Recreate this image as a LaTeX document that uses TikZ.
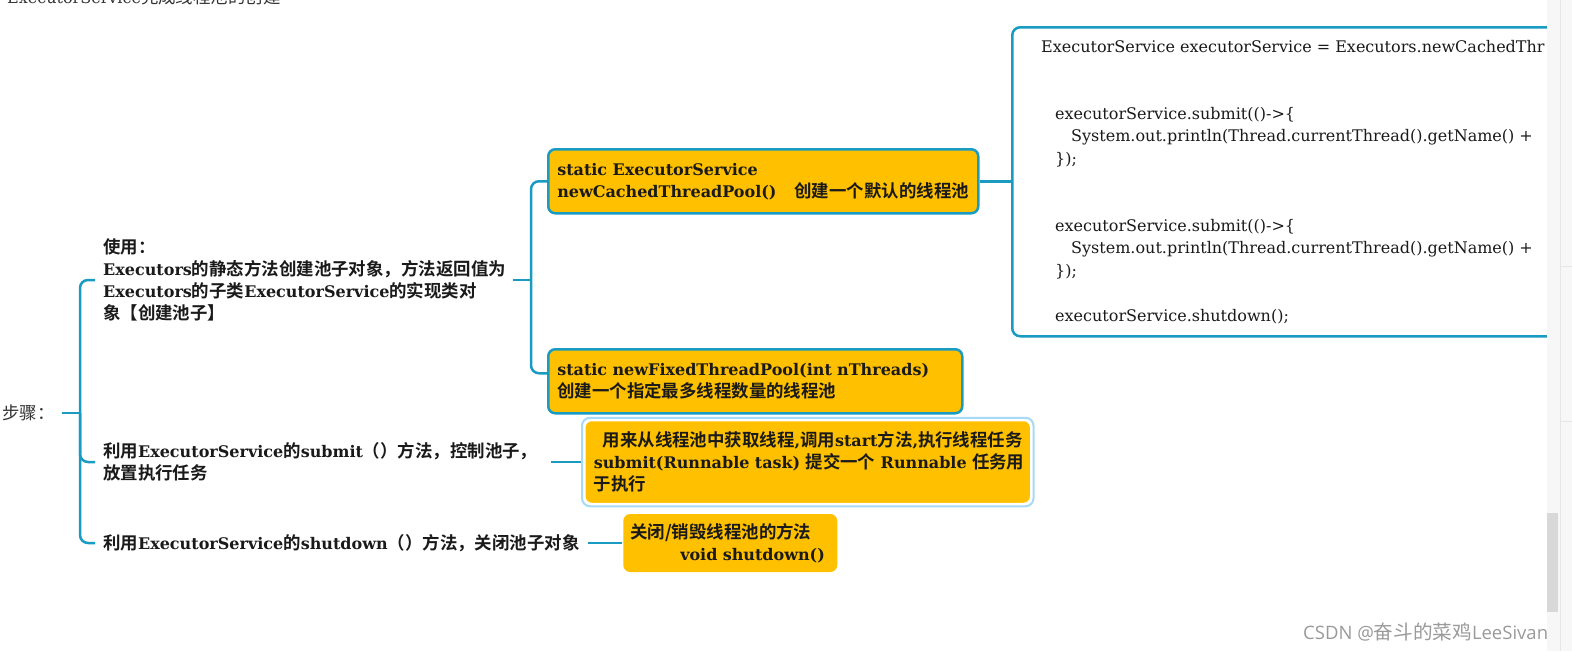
\documentclass[tikz,border=0pt]{standalone}
\usepackage{fontspec}
\setmainfont{DejaVu Serif}
\newfontfamily\cjk{Noto Sans CJK SC}[Scale=1.09,BoldFont={Noto Sans CJK SC Bold}]
\newfontfamily\markfont{Open Sans}
\usepackage{tikz}
\usetikzlibrary{positioning,calc}
\definecolor{Teal}{HTML}{1A9BC2}
\definecolor{Amber}{HTML}{FFC000}
\definecolor{Ring}{HTML}{A6DAF5}
\definecolor{Ink}{HTML}{1A1A1A}
\definecolor{Gray}{HTML}{333333}
\definecolor{MarkGray}{HTML}{9A9A9A}
\definecolor{ScrollBg}{HTML}{F7F7F7}
\definecolor{ScrollLine}{HTML}{E6E6E6}
\definecolor{Thumb}{HTML}{D8D8D8}
\newcommand{\zh}[1]{{\cjk #1}}
\newcommand{\bodyfont}{\fontsize{16}{22}\selectfont}

\tikzset{
  branch/.style={draw=Teal,line width=2.5pt,rounded corners=8pt},
  plain/.style={inner sep=0pt,anchor=west,font=\fontsize{16}{20}\selectfont,text=Gray},
  topic/.style={inner xsep=8pt,inner ysep=0pt,align=left,anchor=west,
    font=\bodyfont\bfseries,text=Ink},
  orangebox/.style={fill=Amber,draw=Teal,line width=2.5pt,rounded corners=7pt,
    inner xsep=9pt,inner ysep=3pt,align=left,anchor=north west,
    font=\bodyfont\bfseries,text=Ink},
  codebox/.style={fill=white,draw=Teal,line width=2.5pt,rounded corners=8pt,
    anchor=north west,minimum width=620pt,minimum height=309pt},
  codetext/.style={inner sep=0pt,align=left,anchor=north west,
    font=\fontsize{16}{22.4}\selectfont,text=Ink},
}

\begin{document}
\begin{tikzpicture}[x=1pt,y=-1pt]
  \fill[white] (0,0) rectangle (1572,651);
  \useasboundingbox (0,0) rectangle (1572,651);

  % title cut by the top edge
  \node[plain,anchor=base west] (title) at (7,3)
    {ExecutorService\zh{完成线程池的创建}};

  % left side
  \node[plain,text width=60pt,align=left] (steps) at (2,413) {\zh{步骤：}};
  \coordinate (trunk) at (80,413);

  \node[topic,text width=402pt] (usenode) at (95,280)
    {\zh{使用：}\\
     Executors\zh{的静态方法创建池子对象，方法返回值为}\\
     Executors\zh{的子类}ExecutorService\zh{的实现类对}\\
     \zh{象【创建池子】}};
  \node[topic,text width=440pt] (submitnode) at (95,462)
    {\mbox{\zh{利用}ExecutorService\zh{的}submit\zh{（）方法，控制池子，}}\\
     \zh{放置执行任务}};
  \node[topic,text width=477pt] (shutnode) at (95,543)
    {\mbox{\zh{利用}ExecutorService\zh{的}shutdown\zh{（）方法，关闭池子对象}}};

  \draw[branch] (steps) -- (trunk);
  \draw[branch] (usenode.west) -| (trunk) |- (shutnode.west);
  \draw[branch] (trunk) |- (submitnode.west);

  % pools
  \node[orangebox,minimum width=430pt,minimum height=64pt,text width=412pt]
    (cachednode) at (547,148)
    {static ExecutorService\\
     \mbox{newCachedThreadPool()\hspace{18pt}\zh{创建一个默认的线程池}}};
  \node[orangebox,minimum width=414pt,minimum height=64pt,text width=396pt]
    (fixednode) at (547,348)
    {\mbox{static newFixedThreadPool(int nThreads)}\\
     \zh{创建一个指定最多线程数量的线程池}};

  \coordinate (fork) at (531,280);
  \draw[branch] (usenode.east) -- (fork);
  \draw[branch] (cachednode.west) -| (fork) |- ([yshift=8pt]fixednode.west);

  % submit
  \node[orangebox,draw=white,line width=1.5pt,minimum width=446pt,minimum height=83pt,
    text width=428pt,anchor=west] (submitbox) at (584,462)
    {\mbox{\hspace*{9pt}\zh{用来从线程池中获取线程}{,}\zh{调用}start\zh{方法}{,}\zh{执行线程任务}}\\
     \mbox{submit(Runnable task) \zh{提交一个} Runnable \zh{任务用}}\\
     \zh{于执行}};
  \draw[Ring,line width=2pt,rounded corners=8pt]
    ([xshift=-2pt,yshift=2pt]submitbox.north west) rectangle
    ([xshift=2pt,yshift=-2pt]submitbox.south east);
  \draw[branch] (submitnode.east) -- ([xshift=-3pt]submitbox.west);

  % shutdown
  \node[orangebox,draw=none,minimum width=214pt,minimum height=58pt,text width=200pt,
    inner xsep=7pt,anchor=west] (shutbox) at (622,543)
    {\zh{关闭/销毁线程池的方法}\\
     \mbox{\hspace*{50pt}void shutdown()}};
  \draw[branch] (shutnode.east) -- (shutbox.west);

  % code sample
  \node[codebox] (codebox) at (1011,26) {};
  \draw[branch] (cachednode.east) -- (cachednode.east -| codebox.west);
  \node[codetext] (codetxt) at (1041,40)
    {ExecutorService executorService = Executors.newCachedThr\\[44.8pt]
     \hspace*{14pt}executorService.submit(()->\{\\
     \hspace*{30pt}System.out.println(Thread.currentThread().getName() +\\
     \hspace*{14pt}\});\\[44.8pt]
     \hspace*{14pt}executorService.submit(()->\{\\
     \hspace*{30pt}System.out.println(Thread.currentThread().getName() +\\
     \hspace*{14pt}\});\\[22.4pt]
     \hspace*{14pt}executorService.shutdown();};

  % scroll bar of the window
  \fill[ScrollBg] (1547,0) rectangle (1572,651);
  \draw[ScrollLine,line width=1pt] (1560,0) -- (1560,651);
  \draw[ScrollLine,line width=1pt] (1560,266) -- (1572,266);
  \draw[ScrollLine,line width=1pt] (1560,421) -- (1572,421);
  \fill[Thumb] (1547,513) rectangle (1558,612);

  \node[inner sep=0pt,anchor=west,font=\markfont\fontsize{18.5}{22}\selectfont,text=MarkGray]
    (mark) at (1303,632)
    {CSDN @{\cjk\fontsize{18}{22}\selectfont 奋斗的菜鸡}LeeSivan};
\end{tikzpicture}
\end{document}
